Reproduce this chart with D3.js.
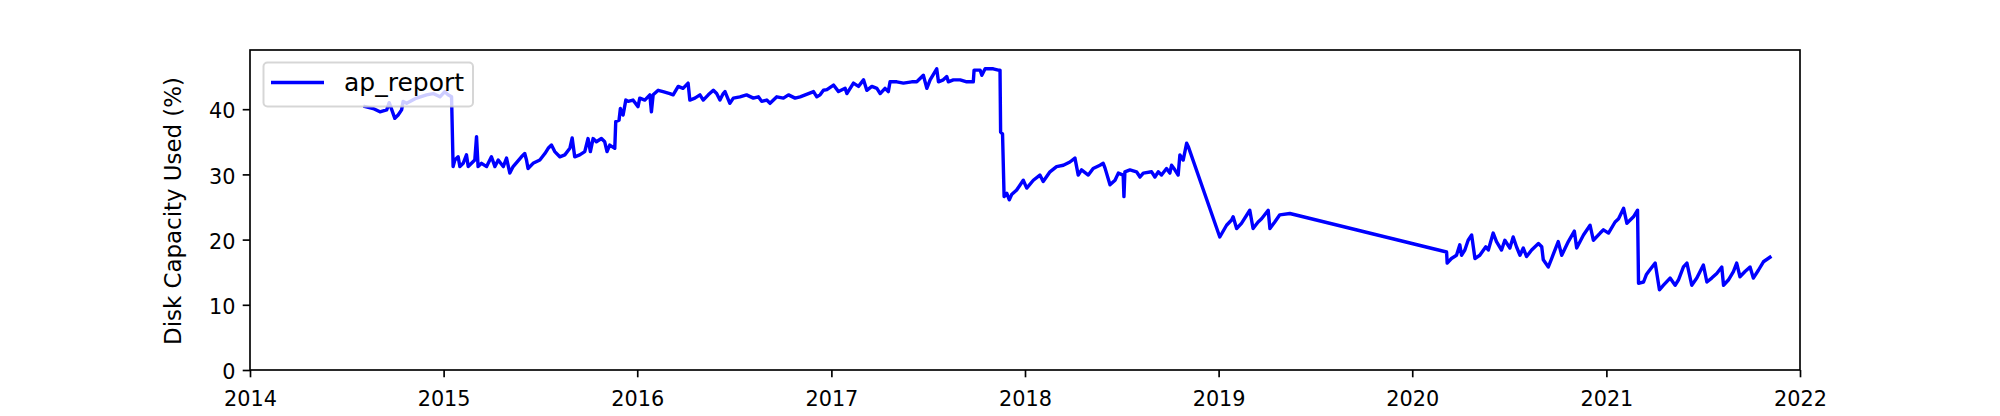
<!DOCTYPE html>
<html>
<head>
<meta charset="utf-8">
<script src="https://cdn.jsdelivr.net/npm/d3@7"></script>
<style>
  html, body { margin: 0; padding: 0; background: #fff; }
  svg { display: block; font-family: "DejaVu Sans", sans-serif; }
</style>
</head>
<body>
<svg id="chart" width="2000" height="416"></svg>
<script>
// ---- data (decimal years, disk capacity used %) ----
const seriesName = "ap_report";
const years = [
  2014.594, 2014.636, 2014.671, 2014.706, 2014.719, 2014.748, 2014.765, 2014.783, 2014.791, 2014.809,
  2014.860, 2014.912, 2014.946, 2014.981, 2015.006, 2015.023, 2015.041, 2015.049, 2015.058, 2015.075,
  2015.084, 2015.101, 2015.118, 2015.127, 2015.144, 2015.161, 2015.170, 2015.178, 2015.196, 2015.222,
  2015.247, 2015.265, 2015.282, 2015.308, 2015.325, 2015.342, 2015.359, 2015.402, 2015.419, 2015.428,
  2015.436, 2015.462, 2015.497, 2015.523, 2015.540, 2015.557, 2015.574, 2015.600, 2015.626, 2015.652,
  2015.664, 2015.677, 2015.703, 2015.729, 2015.746, 2015.758, 2015.772, 2015.789, 2015.815, 2015.832,
  2015.844, 2015.858, 2015.884, 2015.889, 2015.906, 2015.913, 2015.927, 2015.941, 2015.953, 2015.978,
  2016.004, 2016.013, 2016.039, 2016.065, 2016.073, 2016.082, 2016.108, 2016.133, 2016.168, 2016.185,
  2016.211, 2016.236, 2016.262, 2016.271, 2016.297, 2016.323, 2016.340, 2016.366, 2016.392, 2016.409,
  2016.426, 2016.443, 2016.452, 2016.477, 2016.495, 2016.529, 2016.563, 2016.598, 2016.624, 2016.641,
  2016.667, 2016.684, 2016.719, 2016.753, 2016.779, 2016.813, 2016.839, 2016.882, 2016.908, 2016.925,
  2016.942, 2016.959, 2016.977, 2017.011, 2017.037, 2017.071, 2017.080, 2017.114, 2017.140, 2017.166,
  2017.183, 2017.209, 2017.235, 2017.252, 2017.277, 2017.294, 2017.303, 2017.338, 2017.372, 2017.415,
  2017.441, 2017.475, 2017.493, 2017.510, 2017.544, 2017.553, 2017.578, 2017.596, 2017.604, 2017.630,
  2017.665, 2017.699, 2017.733, 2017.737, 2017.768, 2017.777, 2017.794, 2017.836, 2017.862, 2017.871,
  2017.874, 2017.884, 2017.892, 2017.906, 2017.919, 2017.931, 2017.957, 2017.991, 2018.009, 2018.043,
  2018.077, 2018.094, 2018.129, 2018.163, 2018.198, 2018.232, 2018.258, 2018.275, 2018.292, 2018.327,
  2018.352, 2018.387, 2018.404, 2018.413, 2018.439, 2018.465, 2018.482, 2018.507, 2018.511, 2018.516,
  2018.542, 2018.576, 2018.594, 2018.611, 2018.654, 2018.671, 2018.688, 2018.705, 2018.731, 2018.748,
  2018.757, 2018.774, 2018.791, 2018.800, 2018.817, 2018.835, 2018.843, 2019.006, 2019.041, 2019.067,
  2019.075, 2019.093, 2019.118, 2019.161, 2019.178, 2019.204, 2019.222, 2019.256, 2019.265, 2019.290,
  2019.316, 2019.368, 2020.177, 2020.180, 2020.202, 2020.228, 2020.245, 2020.254, 2020.271, 2020.288,
  2020.306, 2020.323, 2020.348, 2020.379, 2020.392, 2020.417, 2020.434, 2020.460, 2020.477, 2020.503,
  2020.520, 2020.537, 2020.555, 2020.572, 2020.589, 2020.615, 2020.650, 2020.667, 2020.675, 2020.701,
  2020.718, 2020.752, 2020.770, 2020.804, 2020.835, 2020.847, 2020.882, 2020.916, 2020.933, 2020.968,
  2020.985, 2021.011, 2021.045, 2021.063, 2021.089, 2021.106, 2021.140, 2021.161, 2021.166, 2021.192,
  2021.206, 2021.218, 2021.236, 2021.252, 2021.274, 2021.295, 2021.329, 2021.355, 2021.372, 2021.398,
  2021.416, 2021.441, 2021.467, 2021.484, 2021.501, 2021.519, 2021.544, 2021.570, 2021.596, 2021.605,
  2021.630, 2021.656, 2021.673, 2021.690, 2021.716, 2021.742, 2021.759, 2021.785, 2021.811, 2021.845
];
const usage = [
  40.4, 40.1, 39.6, 39.9, 41.0, 38.6, 39.1, 39.9, 41.2, 40.9,
  41.7, 42.2, 42.4, 41.9, 42.7, 42.2, 41.9, 31.2, 32.2, 32.7,
  31.2, 31.7, 33.0, 31.2, 31.7, 32.2, 35.8, 31.2, 31.7, 31.2,
  32.7, 31.2, 32.2, 31.2, 32.5, 30.2, 31.2, 32.7, 33.2, 32.2,
  30.9, 31.7, 32.2, 33.2, 34.0, 34.5, 33.5, 32.7, 33.0, 34.0,
  35.6, 32.7, 33.0, 33.5, 35.5, 33.5, 35.5, 35.0, 35.5, 35.0,
  33.5, 34.5, 34.0, 38.1, 38.3, 40.1, 39.1, 41.4, 41.2, 41.4,
  40.4, 41.7, 41.4, 42.2, 39.6, 42.2, 42.9, 42.7, 42.4, 42.2,
  43.5, 43.2, 44.0, 41.4, 41.7, 42.2, 41.4, 42.2, 42.9, 42.4,
  41.4, 42.4, 42.7, 40.9, 41.7, 41.9, 42.2, 41.7, 41.9, 41.2,
  41.4, 40.9, 41.9, 41.7, 42.2, 41.7, 41.9, 42.4, 42.7, 41.9,
  42.2, 42.9, 43.0, 43.7, 42.7, 43.2, 42.4, 44.0, 43.5, 44.5,
  42.9, 43.5, 43.2, 42.4, 43.2, 42.7, 44.2, 44.2, 44.0, 44.2,
  44.2, 45.2, 43.2, 44.5, 46.2, 44.2, 44.5, 45.0, 44.2, 44.5,
  44.5, 44.2, 44.2, 46.0, 46.0, 45.2, 46.2, 46.2, 46.0, 46.0,
  36.5, 36.2, 26.6, 27.1, 26.1, 26.9, 27.6, 29.1, 27.9, 29.1,
  29.9, 28.9, 30.4, 31.2, 31.4, 31.9, 32.5, 29.9, 30.7, 29.9,
  30.9, 31.4, 31.7, 31.0, 28.4, 29.1, 30.2, 29.9, 26.6, 30.4,
  30.7, 30.4, 29.6, 30.2, 30.4, 29.6, 30.4, 29.9, 30.9, 30.2,
  31.4, 30.7, 29.9, 33.0, 32.2, 34.8, 34.3, 20.4, 22.2, 23.0,
  23.5, 21.7, 22.5, 24.5, 21.7, 22.7, 23.2, 24.5, 21.7, 22.7,
  23.8, 24.0, 18.1, 16.4, 17.1, 17.6, 19.2, 17.6, 18.4, 19.9,
  20.7, 17.1, 17.6, 18.9, 18.4, 21.0, 19.7, 18.4, 19.9, 18.7,
  20.4, 18.9, 17.6, 18.7, 17.4, 18.4, 19.4, 18.9, 16.9, 15.8,
  17.1, 19.7, 17.6, 19.7, 21.3, 18.7, 20.7, 22.2, 19.9, 21.0,
  21.5, 21.0, 22.7, 23.2, 24.8, 22.5, 23.5, 24.5, 13.3, 13.5,
  14.6, 15.1, 15.8, 16.4, 12.3, 13.0, 14.1, 13.0, 13.8, 15.8,
  16.4, 13.0, 14.1, 15.1, 16.1, 13.5, 14.1, 14.8, 15.8, 13.0,
  13.8, 15.1, 16.4, 14.3, 15.1, 15.8, 14.1, 15.3, 16.6, 17.3
];
const xTickYears = [2014, 2015, 2016, 2017, 2018, 2019, 2020, 2021, 2022];
const yTicks = [0, 10, 20, 30, 40];
const yLabel = "Disk Capacity Used (%)";

// ---- helpers ----
function yearToDate(d) {
  const y0 = Math.floor(d);
  const s = Date.UTC(y0, 0, 1), e = Date.UTC(y0 + 1, 0, 1);
  return new Date(s + (d - y0) * (e - s));
}
const data = years.map((y, i) => ({ date: yearToDate(y), value: usage[i] }));

// ---- layout ----
const L = 250, R = 1800, T = 50, B = 370;
const fontSize = 20.8, labelFontSize = 22.9, legendFontSize = 25;
const spineW = 1.67, tickLen = 7.3, tickPad = 7.3;

const svg = d3.select("#chart");
const x = d3.scaleUtc()
  .domain([Date.UTC(2014, 0, 1), Date.UTC(2022, 0, 1)])
  .range([L, R]);
const y = d3.scaleLinear().domain([0, 49.08]).range([B, T]);

// line
const line = d3.line().x(d => x(d.date)).y(d => y(d.value));
svg.append("path")
  .datum(data)
  .attr("d", line)
  .attr("fill", "none")
  .attr("stroke", "#0000ff")
  .attr("stroke-width", 3.4)
  .attr("stroke-linejoin", "round")
  .attr("stroke-linecap", "square");

// x axis
const xAxis = d3.axisBottom(x)
  .tickValues(xTickYears.map(yy => new Date(Date.UTC(yy, 0, 1))))
  .tickFormat(d3.utcFormat("%Y"))
  .tickSizeInner(tickLen).tickSizeOuter(0).tickPadding(tickPad);
const gx = svg.append("g").attr("transform", `translate(0,${B})`).call(xAxis);
gx.select(".domain").remove();
gx.selectAll(".tick line").attr("stroke", "#000").attr("stroke-width", spineW);
gx.selectAll(".tick text")
  .attr("font-size", fontSize).attr("font-family", "DejaVu Sans").attr("fill", "#000")
  .attr("dy", null).attr("y", 36);

// y axis
const yAxis = d3.axisLeft(y)
  .tickValues(yTicks)
  .tickFormat(d3.format("d"))
  .tickSizeInner(tickLen).tickSizeOuter(0).tickPadding(tickPad);
const gy = svg.append("g").attr("transform", `translate(${L},0)`).call(yAxis);
gy.select(".domain").remove();
gy.selectAll(".tick line").attr("stroke", "#000").attr("stroke-width", spineW);
gy.selectAll(".tick text")
  .attr("font-size", fontSize).attr("font-family", "DejaVu Sans").attr("fill", "#000")
  .attr("dy", null).attr("y", 8.6);

// spines
svg.append("rect")
  .attr("x", L).attr("y", T).attr("width", R - L).attr("height", B - T)
  .attr("fill", "none").attr("stroke", "#000").attr("stroke-width", spineW);

// y label
svg.append("text")
  .attr("transform", `translate(181,${(T + B) / 2 + 1}) rotate(-90)`)
  .attr("text-anchor", "middle")
  .attr("font-size", labelFontSize).attr("font-family", "DejaVu Sans")
  .text(yLabel);

// legend
const lg = svg.append("g");
lg.append("rect")
  .attr("x", 263.5).attr("y", 62.5).attr("width", 209.5).attr("height", 44)
  .attr("rx", 4).attr("ry", 4)
  .attr("fill", "#fff").attr("fill-opacity", 0.8)
  .attr("stroke", "#cccccc").attr("stroke-opacity", 0.8).attr("stroke-width", 2);
lg.append("line")
  .attr("x1", 271).attr("x2", 324).attr("y1", 82.5).attr("y2", 82.5)
  .attr("stroke", "#0000ff").attr("stroke-width", 3.4);
lg.append("text")
  .attr("x", 344).attr("y", 91)
  .attr("font-size", legendFontSize).attr("font-family", "DejaVu Sans")
  .text(seriesName);
</script>
</body>
</html>
